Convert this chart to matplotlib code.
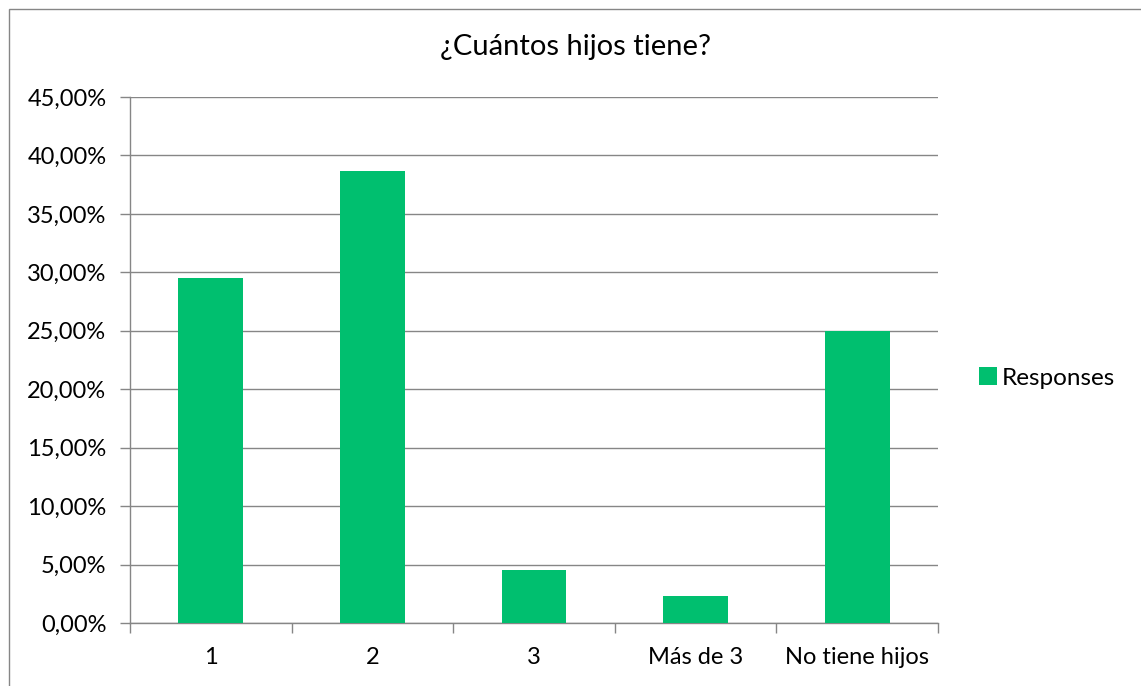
import matplotlib.pyplot as plt
from matplotlib.patches import Rectangle
from matplotlib.ticker import FuncFormatter

categories = ['1', '2', '3', 'Más de 3', 'No tiene hijos']
responses = [29.55, 38.64, 4.55, 2.27, 25.00]

plt.rcParams['font.family'] = ['Lato', 'DejaVu Sans']

fig = plt.figure(figsize=(11.41, 6.86), dpi=100)
ax = fig.add_axes([130 / 1141, 1 - 623 / 686, 808 / 1141, 526 / 686])

x = range(len(categories))
ax.bar(x, responses, width=0.4, color='#00BF6F', label='Responses', zorder=3)

ax.set_xlim(-0.5, len(categories) - 0.5)
ax.set_ylim(0, 45)
ax.set_yticks(range(0, 46, 5))
ax.yaxis.set_major_formatter(FuncFormatter(lambda v, p: f'{v:.2f}%'.replace('.', ',')))
ax.set_xticks(list(x))
ax.set_xticklabels(categories)
ax.set_xticks([i - 0.5 for i in range(len(categories) + 1)], minor=True)
ax.tick_params(axis='x', which='major', length=0, pad=17, labelsize=17)
ax.tick_params(axis='x', which='minor', length=7, color='#868686', width=1)
ax.tick_params(axis='y', length=7, color='#868686', width=1, labelsize=17, pad=10)

ax.grid(axis='y', color='#868686', linewidth=1, zorder=0)
for side in ['top', 'right']:
    ax.spines[side].set_visible(False)
for side in ['left', 'bottom']:
    ax.spines[side].set_color('#868686')
    ax.spines[side].set_linewidth(1)

fig.text(575 / 1141, 1 - 47 / 686, '¿Cuántos hijos tiene?', ha='center', va='center', fontsize=21)

fig.legend(loc='center left', bbox_to_anchor=(957 / 1141, 1 - 378 / 686), frameon=False,
           fontsize=17.5, handlelength=0.75, handleheight=0.75, handletextpad=0.2)

# outer chart frame
fig.patches.append(Rectangle((9 / 1141, -0.1), 1.2, 1 - 9 / 686 + 0.1, transform=fig.transFigure,
                             fill=False, edgecolor='#868686', linewidth=1))

fig.savefig('out.png', dpi=100)
